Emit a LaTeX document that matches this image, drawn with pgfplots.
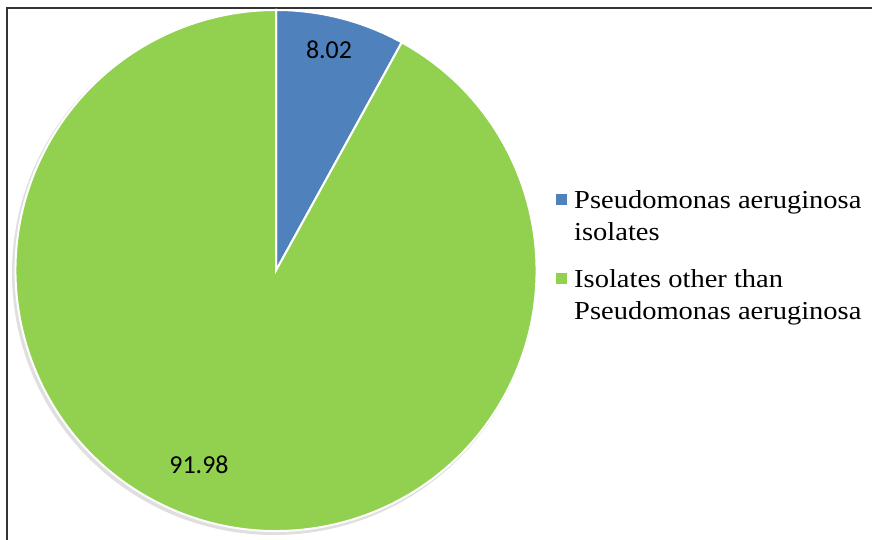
\documentclass[border=0pt]{standalone}
\usepackage{fontspec}
\setmainfont{Liberation Serif}[FakeStretch=1.1]
\newfontfamily\labelfont{Carlito}
\usepackage{pgfplots}
\usepackage{pgfplotstable}
\pgfplotsset{compat=1.18}

\definecolor{pablue}{HTML}{4F81BD}
\definecolor{pagreen}{HTML}{92D050}

% share of isolates, in per cent
\pgfplotstableread{
share
8.02
91.98
}\piedata
\pgfplotstablegetelem{0}{share}\of\piedata \let\shareA\pgfplotsretval
\pgfplotstablegetelem{1}{share}\of\piedata \let\shareB\pgfplotsretval
% the first slice starts at 12 o'clock and runs clockwise
\pgfmathsetmacro\angA{90-3.6*\shareA}
\pgfmathsetmacro\angB{\angA-3.6*\shareB}
\def\cx{276}\def\cy{269.5}\def\rad{260.5bp}

\begin{document}
\begin{tikzpicture}
\begin{axis}[
  x=1bp, y=1bp, xmin=0, xmax=872, ymin=0, ymax=540,
  scale only axis, hide axis, clip=false,
  legend style={draw=none, fill=none, at={(axis cs:556,352)}, anchor=north west,
    font=\fontsize{26}{32}\selectfont, inner sep=0pt,
    cells={anchor=west, align=left, inner sep=0pt}, row sep=24bp, column sep=6bp},
  legend image code/.code={%
    \fill[#1, overlay] (0bp,12bp) rectangle (10bp,22bp);
    \path[draw=none, fill=none] (0bp,0bp) -- (10bp,0bp);},
]
\path (axis cs:0,0) rectangle (axis cs:872,540);
% frame
\draw[line width=2bp, black!80] (axis cs:7,0) -- (axis cs:7,532) -- (axis cs:872,532);
% soft shadow under the pie
\fill[gray!25] (axis cs:\cx-2,\cy-2.5) circle[radius=262bp];
% slices
\filldraw[fill=pablue, draw=white, line width=2bp]
  (axis cs:\cx,\cy) -- ++(90:\rad) arc[start angle=90, end angle=\angA, radius=\rad] -- cycle;
\filldraw[fill=pagreen, draw=white, line width=2bp]
  (axis cs:\cx,\cy) -- ++(\angA:\rad) arc[start angle=\angA, end angle=\angB, radius=\rad] -- cycle;
% value labels
\node[font=\labelfont\fontsize{26}{30}\selectfont] at (axis cs:329,490)
  {\pgfmathprintnumber[fixed,precision=2,fixed zerofill,assume math mode=true]{\shareA}};
\node[font=\labelfont\fontsize{26}{30}\selectfont] at (axis cs:199,75)
  {\pgfmathprintnumber[fixed,precision=2,fixed zerofill,assume math mode=true]{\shareB}};
\addlegendimage{pablue}
\addlegendentry{Pseudomonas aeruginosa\\isolates}
\addlegendimage{pagreen}
\addlegendentry{Isolates other than\\Pseudomonas aeruginosa}
\end{axis}
\pgfresetboundingbox
\path (current axis.south west) rectangle (current axis.north east);
\end{tikzpicture}
\end{document}
